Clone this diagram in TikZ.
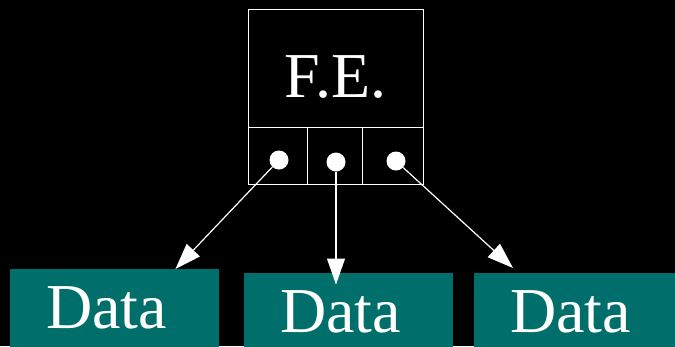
\documentclass[tikz,border=0pt]{standalone}
\usepackage{fontspec}
\setmainfont{Liberation Serif}
\usetikzlibrary{arrows.meta,positioning}
\definecolor{datateal}{RGB}{0,111,107}
\begin{document}
\begin{tikzpicture}[x=1pt,y=-1pt, font=\fontsize{64}{64}\selectfont,
  cell/.style={draw=white,line width=1pt,inner sep=0pt,outer sep=0pt,text=white},
  ptr/.style={circle,fill=white,minimum size=19pt,inner sep=0pt},
  data/.style={fill=datateal,text=white,anchor=north west,minimum width=209pt,
    minimum height=78pt,inner xsep=36pt,inner ysep=0pt,text width=137pt,align=left},
  link/.style={draw=white,line width=1.2pt,-{Triangle[length=26pt,width=18pt]}}]
\fill[black] (0,0) rectangle (675,346);
\useasboundingbox (0,0) rectangle (675,346);
% front end: name cell over three pointer slots
\node[cell,minimum width=175pt,minimum height=118pt,text height=59pt,text depth=0pt] (fe) at (335.5,68) {F.E.};
\node[cell,anchor=north west,minimum width=59pt,minimum height=57pt] (s1) at (fe.south west) {};
\node[cell,anchor=north west,minimum width=55pt,minimum height=57pt] (s2) at (s1.north east) {};
\node[cell,anchor=north west,minimum width=61pt,minimum height=57pt] (s3) at (s2.north east) {};
\node[ptr] (p1) at (279,160) {};
\node[ptr] (p2) at (336,162) {};
\node[ptr] (p3) at (396,161) {};

% the records the slots point at
\node[data] (d1) at (10,269) {Data};
\node[data] (d2) at (244,272.5) {Data};
\node[data] (d3) at (474,272.5) {Data};

\draw[link] (p1) -- ([xshift=-44pt]d1.north east);
\draw[link,shorten >=-12pt] (p2) -- (p2 |- d2.north);
\draw[link] (p3) -- ([xshift=39pt,yshift=4.5pt]d3.north west);
\end{tikzpicture}
\end{document}
